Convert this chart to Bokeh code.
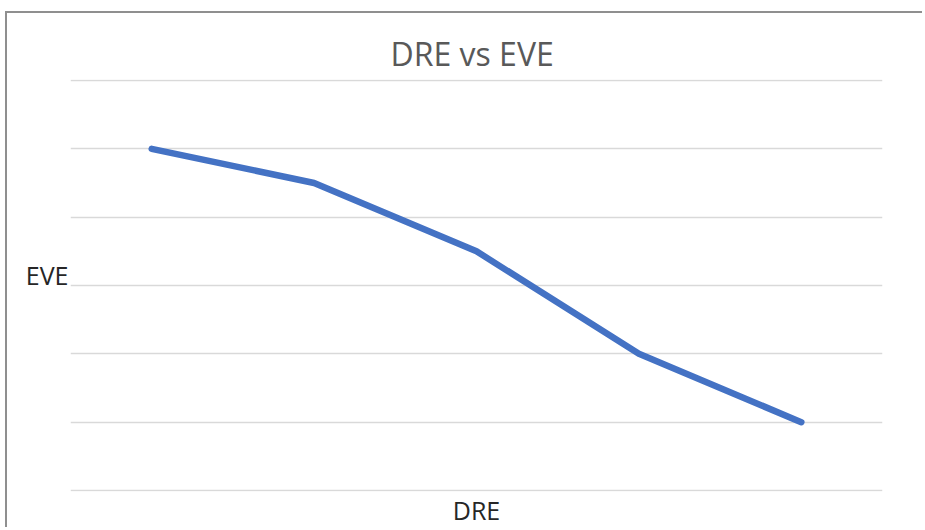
from bokeh.plotting import figure
from bokeh.models import FactorRange, Range1d, FixedTicker
from bokeh.embed import file_html
from bokeh.resources import INLINE

categories = ["1", "2", "3", "4", "5"]
eve_values = [5, 4.5, 3.5, 2, 1]
y_ticks = [0, 1, 2, 3, 4, 5, 6]

p = figure(
    width=917, height=516,
    x_range=FactorRange(*categories, range_padding=0),
    y_range=Range1d(-0.015, 6.015),
    output_backend="svg", toolbar_location=None,
    min_border_left=63, min_border_right=42,
    min_border_top=66, min_border_bottom=36,
    title="DRE vs EVE",
)
p.margin = (11, 0, 0, 5)
p.styles = {"border-top": "2px solid #8f8f8f", "border-left": "2px solid #8f8f8f"}

p.title.align = "left"
p.title.offset = 320
p.title.text_font = "Open Sans"
p.title.text_font_style = "normal"
p.title.text_font_size = "32px"
p.title.text_color = "#595959"

p.outline_line_color = None
p.xgrid.grid_line_color = None
p.ygrid.ticker = FixedTicker(ticks=y_ticks)
p.ygrid.grid_line_color = "#d9d9d9"
p.ygrid.grid_line_width = 1.5
p.yaxis.ticker = FixedTicker(ticks=[])
p.xaxis.ticker = FixedTicker(ticks=[])

for ax in (p.xaxis, p.yaxis):
    ax.axis_line_color = None
    ax.major_tick_line_color = None
    ax.minor_tick_line_color = None
    ax.major_label_standoff = 0
    ax.axis_label_text_font = "Open Sans"
    ax.axis_label_text_font_style = "normal"
    ax.axis_label_text_font_size = "25px"
    ax.axis_label_text_color = "#262626"

p.xaxis.axis_label = "DRE"
p.xaxis.axis_label_standoff = 1
p.yaxis.axis_label = "EVE\n"
p.yaxis.axis_label_text_line_height = 0.6
p.yaxis.axis_label_standoff = 2
p.yaxis.axis_label_orientation = "horizontal"

p.line(categories, eve_values, line_color="#4472c4", line_width=6.5,
       line_cap="round", line_join="round")

open("out.html", "w").write(file_html(p, INLINE))
